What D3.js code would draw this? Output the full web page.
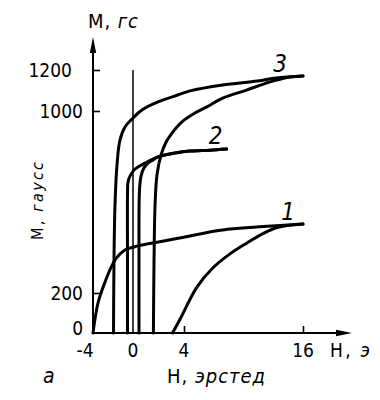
<!DOCTYPE html>
<html>
<head>
<meta charset="utf-8">
<script src="https://cdn.jsdelivr.net/npm/d3@7"></script>
<style>
  html, body { margin: 0; padding: 0; background: #fff; }
  svg { display: block; }
</style>
</head>
<body>
<svg id="chart" width="380" height="400"></svg>
<script>
// ---- data (H in oersted, M in gauss) ----
const xTicks = [-4, 0, 4, 16];
const xTickLabels = ["-4", "0", "4", "16"];
const yTicks = [0, 200, 1000, 1200];
const yTickLabels = ["0", "200", "1000", "1200"];

// curve 1
const c1Upper = [[-4,0],[-3.5,150],[-2.8,248],[-1.8,345],[-0.8,389],[0.4,407],[2,424],[4.1,446],[6.1,464],[8.6,481],[12,492],[16,503]];
const c1Lower = [[3.1,0],[3.7,70],[5.3,226],[6.9,310],[8.6,371],[10.35,420],[12,462],[13.4,488],[16,503]];
// curve 2
const c2Upper = [[-0.55,0],[-0.55,345],[-0.55,631],[-0.5,688],[-0.3,714],[0.16,745],[0.94,771],[1.96,798],[3.3,815],[4.6,824],[6.6,828],[8.3,833]];
const c2Lower = [[0.47,0],[0.47,345],[0.51,653],[0.63,714],[0.86,750],[1.18,771],[1.57,785],[1.96,798],[3.3,815],[4.6,824],[6.6,828],[8.3,833]];
// curve 3
const c3Upper = [[-1.95,0],[-1.9,345],[-1.8,587],[-1.6,763],[-1.3,873],[-0.8,930],[0,969],[0.7,1005],[1.96,1044],[3.5,1078],[4.6,1098],[7.9,1127],[11.4,1146],[13.3,1161],[16,1171]];
const c3Lower = [[1.6,0],[1.65,345],[1.73,587],[1.88,719],[2.2,807],[2.6,864],[3.06,903],[3.84,952],[5.1,991],[6.3,1020],[7.9,1063],[10.3,1102],[12.6,1141],[14.7,1166],[16,1171]];

const zeroLineTop = 1200;
const curveNames = ["1", "2", "3"];

// ---- drawing ----
const FONT = "'DejaVu Sans Condensed','Liberation Sans Narrow','DejaVu Sans',sans-serif";
const svg = d3.select("#chart");
svg.append("rect").attr("width", 380).attr("height", 400).attr("fill", "#fff");

// the printed figure uses non-uniform axis spacing; polylinear scales reproduce it
const x = d3.scaleLinear().domain(xTicks).range([93, 133, 184, 303]);
const y = d3.scaleLinear().domain(yTicks).range([333, 293, 111, 70]);

const line = d3.line()
  .x(d => x(d[0])).y(d => y(d[1]))
  .curve(d3.curveCatmullRom.alpha(0.5));

// axes lines with arrows
const axisG = svg.append("g");
axisG.append("line").attr("x1", x(-4)).attr("y1", y(0)).attr("x2", x(-4)).attr("y2", 48)
  .attr("stroke", "#000").attr("stroke-width", 2);
axisG.append("path").attr("d", `M${x(-4)},37 L${x(-4)-3.2},53 L${x(-4)+3.2},53 Z`).attr("fill", "#000");
axisG.append("line").attr("x1", x(-4)).attr("y1", y(0)).attr("x2", 342).attr("y2", y(0))
  .attr("stroke", "#000").attr("stroke-width", 2);
axisG.append("path").attr("d", `M352,${y(0)} L336,${y(0)-3.2} L336,${y(0)+3.2} Z`).attr("fill", "#000");

// y axis ticks (marks only; labels drawn below)
const yAxis = d3.axisLeft(y).tickValues(yTicks.filter(v => v > 0)).tickSizeInner(-7).tickSizeOuter(0).tickFormat("");
const gy = svg.append("g").attr("transform", `translate(${x(-4)},0)`).call(yAxis);
gy.select(".domain").remove();
gy.selectAll(".tick line").attr("stroke", "#000").attr("stroke-width", 1.6);

// x axis ticks
const xAxis = d3.axisBottom(x).tickValues(xTicks.filter(v => v > 0)).tickSizeInner(-7).tickSizeOuter(0).tickFormat("");
const gx = svg.append("g").attr("transform", `translate(0,${y(0)})`).call(xAxis);
gx.select(".domain").remove();
gx.selectAll(".tick line").attr("stroke", "#000").attr("stroke-width", 1.6);

// tick labels
svg.append("g").selectAll("text").data(yTicks).join("text")
  .attr("x", d => x(-4) - (d === 1200 ? 21 : 10))
  .attr("y", d => Math.min(y(d), 328))
  .attr("dy", "0.36em").attr("text-anchor", "end")
  .attr("font-family", FONT).attr("font-size", 19)
  .text((d, i) => yTickLabels[i]);

svg.append("g").selectAll("text").data(xTicks).join("text")
  .attr("x", d => x(d) + (d === -4 ? -8 : 0))
  .attr("y", 357)
  .attr("text-anchor", "middle")
  .attr("font-family", FONT).attr("font-size", 19)
  .text((d, i) => xTickLabels[i]);

// zero line
svg.append("line").attr("x1", x(0)).attr("x2", x(0)).attr("y1", y(0)).attr("y2", y(zeroLineTop))
  .attr("stroke", "#000").attr("stroke-width", 1.5);

// curves
const curves = [c1Upper, c1Lower, c2Upper, c2Lower, c3Upper, c3Lower];
svg.append("g").selectAll("path").data(curves).join("path")
  .attr("d", line)
  .attr("fill", "none").attr("stroke", "#000").attr("stroke-width", 3)
  .attr("stroke-linecap", "round").attr("stroke-linejoin", "round");

// curve numbers
const numPos = [[14.5, 560], [7.2, 895], [13.7, 1234]];
svg.append("g").selectAll("text").data(curveNames).join("text")
  .attr("x", (d, i) => x(numPos[i][0])).attr("y", (d, i) => y(numPos[i][1]))
  .attr("dy", "0.36em").attr("text-anchor", "middle")
  .attr("font-family", FONT).attr("font-style", "italic").attr("font-size", 24)
  .text(d => d);

// axis titles
const t1 = svg.append("text").attr("x", 88).attr("y", 28).attr("font-family", FONT).attr("font-size", 20)
  .attr("textLength", 50).attr("lengthAdjust", "spacing");
t1.append("tspan").text("М, ");
t1.append("tspan").attr("font-style", "italic").text("гс");

const t2 = svg.append("text").attr("x", 330).attr("y", 357).attr("font-family", FONT).attr("font-size", 19)
  .attr("textLength", 40).attr("lengthAdjust", "spacing");
t2.append("tspan").text("Н, ");
t2.append("tspan").attr("font-style", "italic").text("э");

const t3 = svg.append("text").attr("x", 167).attr("y", 383).attr("font-family", FONT).attr("font-size", 20)
  .attr("textLength", 98).attr("lengthAdjust", "spacing");
t3.append("tspan").text("Н, ");
t3.append("tspan").attr("font-style", "italic").text("эрстед");

svg.append("text").attr("x", 43).attr("y", 383).attr("font-family", FONT).attr("font-size", 21)
  .attr("font-style", "italic").text("а");

const t4 = svg.append("text").attr("transform", "translate(43,240) rotate(-90)")
  .attr("font-family", FONT).attr("font-size", 16)
  .attr("textLength", 78).attr("lengthAdjust", "spacing");
t4.append("tspan").text("М, ");
t4.append("tspan").attr("font-style", "italic").text("гаусс");
</script>
</body>
</html>
